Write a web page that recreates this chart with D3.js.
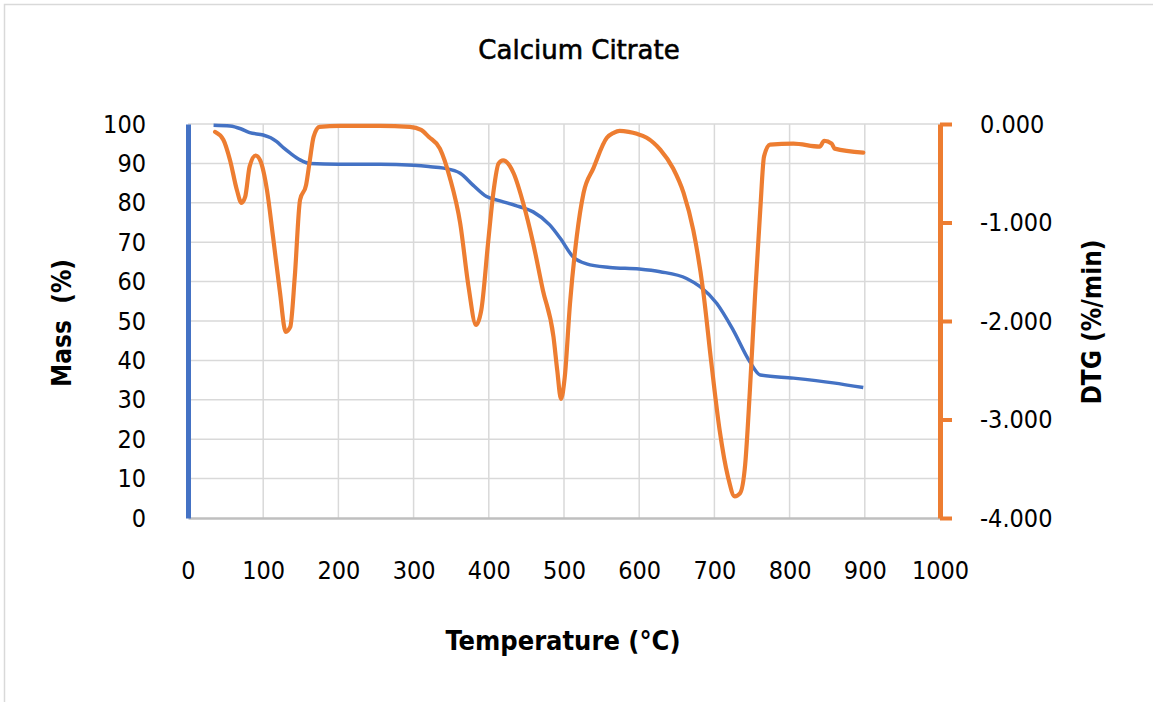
<!DOCTYPE html>
<html>
<head>
<meta charset="utf-8">
<script src="https://cdn.jsdelivr.net/npm/d3@7"></script>
<style>
  body { margin: 0; background: #fff; }
  text { font-family: "DejaVu Sans Condensed", "DejaVu Sans", sans-serif; fill: #000; }
</style>
</head>
<body>
<div id="chart-area"></div>
<script>
const W = 1153, H = 702;
const margin = {top:124, right:213, bottom:184, left:188};

// TG curve (mass %)
const tgTemp = [34,56,70,82,100,110,118,128,136,149,162,200,255,300,320,340,362,379,397,415,441,459,481,495,512,530,561,600,628,663,681,703,725,747,761,805,858,898];
const tgMass = [99.7,99.5,98.8,97.8,97.2,96.5,95.5,93.8,92.6,90.9,90.0,89.8,89.8,89.5,89.2,88.8,87.5,84.5,81.6,80.5,79,77.7,74.4,71,66.3,64.5,63.6,63.2,62.5,60.8,58.7,54.5,47.7,39.7,36.3,35.5,34.3,33.1];

// DTG curve (%/min)
const dtgTemp = [36,47,56,65,71,76,82,90,96,105,113,122,130,136,142,149,157,162,167,175,202,255,295,310,320,335,348,362,373,383,390,399,406,413,419,433,446,459,472,486,491,496,501,508,517,526,539,557,566,574,586,597,610,619,628,645,659,672,685,696,707,718,727,734,741,747,754,761,766,774,805,840,846,856,860,898];
const dtgVal = [-0.08,-0.16,-0.37,-0.67,-0.80,-0.74,-0.43,-0.32,-0.37,-0.67,-1.14,-1.69,-2.11,-2.06,-1.55,-0.77,-0.62,-0.37,-0.13,-0.03,-0.02,-0.02,-0.03,-0.06,-0.13,-0.25,-0.54,-1.01,-1.65,-2.04,-1.89,-1.21,-0.70,-0.40,-0.37,-0.50,-0.81,-1.21,-1.69,-2.16,-2.50,-2.79,-2.57,-1.82,-1.14,-0.70,-0.45,-0.14,-0.09,-0.07,-0.08,-0.10,-0.14,-0.19,-0.26,-0.45,-0.70,-1.08,-1.69,-2.43,-3.11,-3.58,-3.78,-3.75,-3.45,-2.73,-1.75,-0.87,-0.33,-0.21,-0.20,-0.23,-0.17,-0.20,-0.25,-0.29];

const xTicks = [0,100,200,300,400,500,600,700,800,900,1000];
const massTicks = [0,10,20,30,40,50,60,70,80,90,100];
const dtgTicks = [0,-1,-2,-3,-4];

const width = W - margin.left - margin.right;
const height = H - margin.top - margin.bottom;

const svg = d3.select("#chart-area").append("svg")
    .attr("width", W)
    .attr("height", H);

// chart frame
svg.append("path")
    .attr("d", "M4.5," + H + "V4.5H" + W)
    .attr("fill", "none")
    .attr("stroke", "#d9d9d9")
    .attr("stroke-width", 1.5);

const g = svg.append("g")
    .attr("transform", "translate(" + margin.left + "," + margin.top + ")");

const x = d3.scaleLinear().domain([0,1000]).range([0,width]);
const yL = d3.scaleLinear().domain([0,100]).range([height,0]);
const yR = d3.scaleLinear().domain([-4,0]).range([height,0]);

// gridlines
g.append("g").selectAll("line")
    .data(massTicks.slice(1))
    .enter().append("line")
    .attr("x1", 0).attr("x2", width)
    .attr("y1", d => yL(d)).attr("y2", d => yL(d))
    .attr("stroke", "#d9d9d9").attr("stroke-width", 1.5);

g.append("g").selectAll("line")
    .data(xTicks.slice(1))
    .enter().append("line")
    .attr("x1", d => x(d)).attr("x2", d => x(d))
    .attr("y1", 0).attr("y2", height)
    .attr("stroke", "#d9d9d9").attr("stroke-width", 1.5);

// x axis
const xAxis = g.append("g")
    .attr("transform", "translate(0," + height + ")")
    .call(d3.axisBottom(x).tickValues(xTicks).tickSize(0).tickPadding(43).tickFormat(d3.format("d")));
xAxis.select(".domain").attr("stroke", "#bfbfbf").attr("stroke-width", 2.5);
xAxis.selectAll("text").attr("font-size", 25).attr("fill", "#000");

// left axis
const yAxisL = g.append("g")
    .call(d3.axisLeft(yL).tickValues(massTicks).tickSize(0).tickPadding(42));
yAxisL.select(".domain").attr("stroke", "#4472c4").attr("stroke-width", 5);
yAxisL.selectAll("text").attr("font-size", 25).attr("fill", "#000");

// right axis
const yAxisR = g.append("g")
    .attr("transform", "translate(" + width + ",0)")
    .call(d3.axisRight(yR).tickValues(dtgTicks).tickSize(12).tickSizeOuter(0).tickPadding(28).tickFormat(d3.format(".3f")));
yAxisR.select(".domain").attr("stroke", "#ed7d31").attr("stroke-width", 5);
yAxisR.selectAll(".tick line").attr("stroke", "#ed7d31").attr("stroke-width", 4);
yAxisR.selectAll("text").attr("font-size", 25).attr("fill", "#000")
    .text(d => d3.format(".3f")(d).replace("−", "-"));

// curves
const tgLine = d3.line()
    .x((d,i) => x(tgTemp[i]))
    .y(d => yL(d))
    .curve(d3.curveMonotoneX);

const dtgLine = d3.line()
    .x((d,i) => x(dtgTemp[i]))
    .y(d => yR(d))
    .curve(d3.curveMonotoneX);

g.append("path")
    .datum(tgMass)
    .attr("fill", "none")
    .attr("stroke", "#4472c4")
    .attr("stroke-width", 3.5)
    .attr("stroke-linejoin", "round")
    .attr("d", tgLine);

g.append("path")
    .datum(dtgVal)
    .attr("fill", "none")
    .attr("stroke", "#ed7d31")
    .attr("stroke-width", 4.2)
    .attr("stroke-linejoin", "round")
    .attr("stroke-linecap", "round")
    .attr("d", dtgLine);

// titles
svg.append("text")
    .attr("x", 579).attr("y", 59)
    .attr("text-anchor", "middle")
    .style("font-family", "'DejaVu Sans', sans-serif")
    .attr("font-size", 26)
    .attr("stroke", "#000").attr("stroke-width", 0.6)
    .text("Calcium Citrate");

svg.append("text")
    .attr("x", 563).attr("y", 650)
    .attr("text-anchor", "middle")
    .attr("font-size", 27).attr("font-weight", "bold")
    .text("Temperature (°C)");

svg.append("text")
    .attr("transform", "translate(71,323) rotate(-90)")
    .attr("text-anchor", "middle")
    .attr("font-size", 26).attr("font-weight", "bold")
    .attr("xml:space", "preserve")
    .text("Mass  (%)");

svg.append("text")
    .attr("transform", "translate(1101,322) rotate(-90)")
    .attr("text-anchor", "middle")
    .attr("font-size", 26).attr("font-weight", "bold")
    .text("DTG (%/min)");
</script>
</body>
</html>
